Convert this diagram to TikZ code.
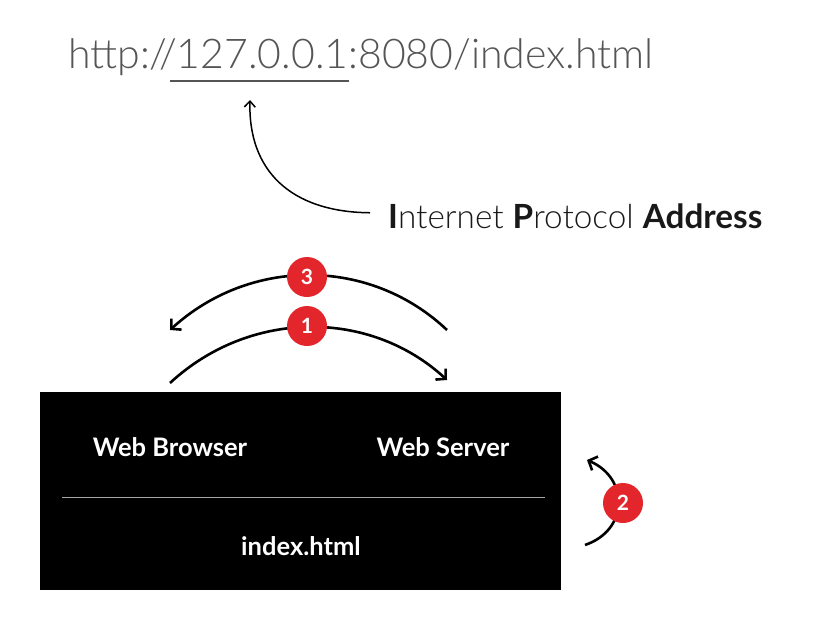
\documentclass[tikz,border=0pt]{standalone}
\usepackage{fontspec}
\setmainfont{Lato}
\newfontfamily\lightfont{Lato Light}
\usetikzlibrary{arrows.meta}
\definecolor{urlgray}{HTML}{555555}
\definecolor{badgered}{HTML}{E3262B}
\begin{document}
\begin{tikzpicture}[x=1pt,y=-1pt,
  badge/.style={circle,fill=badgered,minimum size=40pt,inner sep=0,text=white,font=\bfseries\fontsize{21}{21}\selectfont},
  boxlabel/.style={text=white,font=\bfseries\fontsize{25.5}{25.5}\selectfont,inner sep=0},
  flow/.style={line width=2.6pt,-{Straight Barb[length=7pt,width=15pt,line width=2.6pt]}},
  pointer/.style={line width=1.5pt,-{Straight Barb[length=6pt,width=11pt,line width=1.5pt]}}]
\useasboundingbox (0,0) rectangle (814,630);
% URL
\node[anchor=base west,text=urlgray,font=\lightfont\fontsize{41}{41}\selectfont,inner sep=0] (url) at (68,68) {http://127.0.0.1:8080/index.html};
\coordinate (ulA) at (170,81);
\coordinate (ulB) at (349,81);
\draw[urlgray,line width=1.5pt] (ulA) -- (ulB);
\coordinate (uptip) at (250,100);
% IP label
\node[anchor=base west,inner sep=0,text=black!90,font=\fontsize{33.3}{33.3}\selectfont] (ipa) at (388,228)
  {\textbf{I}{\lightfont nternet }\textbf{P}{\lightfont rotocol }\textbf{Address}};
\draw[pointer] ([xshift=-18pt,yshift=3pt]ipa.west) .. controls (290,212) and (248,170) .. (uptip);
% box
\node[fill=black,minimum width=521pt,minimum height=198pt,inner sep=0,anchor=north west] (box) at (40,392) {};
\coordinate (divA) at (62,497);
\coordinate (divB) at (545,497);
\draw[gray!70,line width=1pt] (divA) -- (divB);
\node[boxlabel] (wb) at (170,447) {Web Browser};
\node[boxlabel] (ws) at (443,447) {Web Server};
\node[boxlabel] (idx) at (301,546) {index.html};
% arcs
\coordinate (a1s) at (170,383);
\coordinate (a1e) at (447,380);
\coordinate (a3s) at (447,330);
\coordinate (a3e) at (170,330);
\draw[flow] (a1s) .. controls (250,309) and (370,309) .. (a1e);
\draw[flow] (a3s) .. controls (370,257) and (250,257) .. (a3e);
\node[badge] (c1) at (307,326) {1};
\node[badge] (c3) at (307,277) {3};
\coordinate (a2s) at (585,545);
\coordinate (a2e) at (587,460);
\draw[flow] (a2s) .. controls (629,530) and (629,478) .. (a2e);
\node[badge] (c2) at (623,503) {2};
\end{tikzpicture}
\end{document}
